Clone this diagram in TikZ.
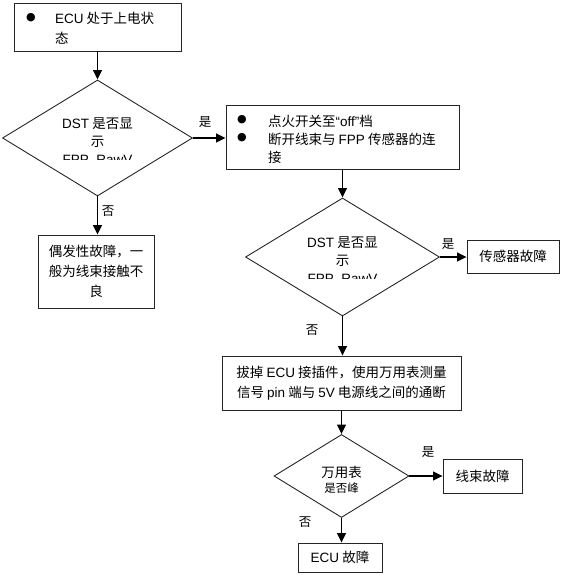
\documentclass[tikz,border=0pt]{standalone}
\usepackage{fontspec}
\setmainfont{Noto Sans CJK SC}
\newfontfamily\latn{Liberation Sans}
\newfontfamily\symb{DejaVu Sans}
\usetikzlibrary{shapes.geometric}
\usetikzlibrary{arrows.meta}
\newcommand{\En}[1]{{\latn #1}}
\newcommand{\Puce}{{\symb\fontsize{11}{11}\selectfont ●}}

\tikzset{
  boite/.style={draw=black!85,line width=0.9pt,inner sep=0pt,
    font=\fontsize{13.5}{20}\selectfont,align=center},
  losange/.style={draw=black!85,shape=diamond,line width=0.9pt,inner sep=0pt},
  texte/.style={font=\fontsize{13.5}{18}\selectfont,inner sep=0pt,align=center},
  etiq/.style={font=\fontsize{12.5}{12.5}\selectfont,inner sep=0pt},
  fleche/.style={line width=1.3pt,-{Triangle[length=9.5pt,width=9pt]}}
}

\begin{document}
\begin{tikzpicture}[x=1pt,y=-1pt]
\useasboundingbox (0,0) rectangle (561,575);

% etat de depart
\node[boite,minimum width=167,minimum height=48] (depart) at (97.5,27) {};
\node[texte] (puce1) at (31,18) {\Puce};
\node[texte,anchor=west] (dep1) at (55,18) {\En{ECU} 处于上电状};
\node[texte,anchor=west] (dep2) at (55,38) {态};

% premier test
\node[losange,minimum width=190,minimum height=116] (q1) at (97.5,138) {};
\begin{scope}
\clip (0,0) rectangle (561,159.5);%texte coupe comme dans la zone de texte
\node[texte] (q1t) at (97.5,142) {\En{DST} 是否显\\示\\\En{FPP\_RawV}};
\end{scope}

\node[boite,minimum width=116,minimum height=73] (inter) at (96,271.5) {偶发性故障，一\\般为线束接触不\\良};

% deuxieme etape
\node[boite,minimum width=233,minimum height=64] (etape2) at (342.5,137) {};
\node[texte] (puce2) at (242,120) {\Puce};
\node[texte] (puce3) at (242,138) {\Puce};
\node[texte,anchor=west] (et1) at (268,121) {点火开关至\En{“off”}档};
\node[texte,anchor=west] (et2) at (268,139) {断开线束与 \En{FPP} 传感器的连};
\node[texte,anchor=west] (et3) at (268,157) {接};

% deuxieme test
\node[losange,minimum width=194,minimum height=118] (q2) at (342.5,257) {};
\begin{scope}
\clip (0,0) rectangle (561,278.5);
\node[texte] (q2t) at (342.5,261) {\En{DST} 是否显\\示\\\En{FPP\_RawV}};
\end{scope}

\node[boite,minimum width=92,minimum height=33] (capteur) at (513,256.5) {传感器故障};

% mesure
\node[boite,minimum width=239,minimum height=54] (mesure) at (341.5,383) {拔掉 \En{ECU} 接插件，使用万用表测量\\信号 \En{pin} 端与 \En{5V} 电源线之间的通断};

% troisieme test
\node[losange,minimum width=135,minimum height=83] (q3) at (341.5,476) {};
\begin{scope}
\clip (0,0) rectangle (561,492);
\node[texte] (q3a) at (341.5,472) {万用表};
\node[texte,font=\fontsize{11.5}{11.5}\selectfont] (q3b) at (341.5,488) {是否峰};
\end{scope}

\node[boite,minimum width=79,minimum height=34] (faisceau) at (482.5,476) {线束故障};
\node[boite,minimum width=84,minimum height=29] (ecu) at (340,557.5) {\En{ECU} 故障};

% fleches
\draw[fleche] (depart.south -| q1.north) -- (q1.north);
\draw[fleche] (q1.east) -- (q1.east -| etape2.west);
\draw[fleche] (q1.south) -- (q1.south |- inter.north);
\draw[fleche] (etape2.south) -- (q2.north);
\draw[fleche] (q2.east) -- (q2.east -| capteur.west);
\draw[fleche] (q2.south) -- (q2.south |- mesure.north);
\draw[fleche] (mesure.south) -- (q3.north);
\draw[fleche] (q3.east) -- (q3.east -| faisceau.west);
\draw[fleche] (q3.south) -- (q3.south |- ecu.north);

% etiquettes
\node[etiq] (oui1) at (205,122) {是};
\node[etiq] (non1) at (108,211) {否};
\node[etiq] (oui2) at (448,244) {是};
\node[etiq] (non2) at (312,330) {否};
\node[etiq] (oui3) at (428,452) {是};
\node[etiq] (non3) at (305,522) {否};

\end{tikzpicture}
\end{document}
